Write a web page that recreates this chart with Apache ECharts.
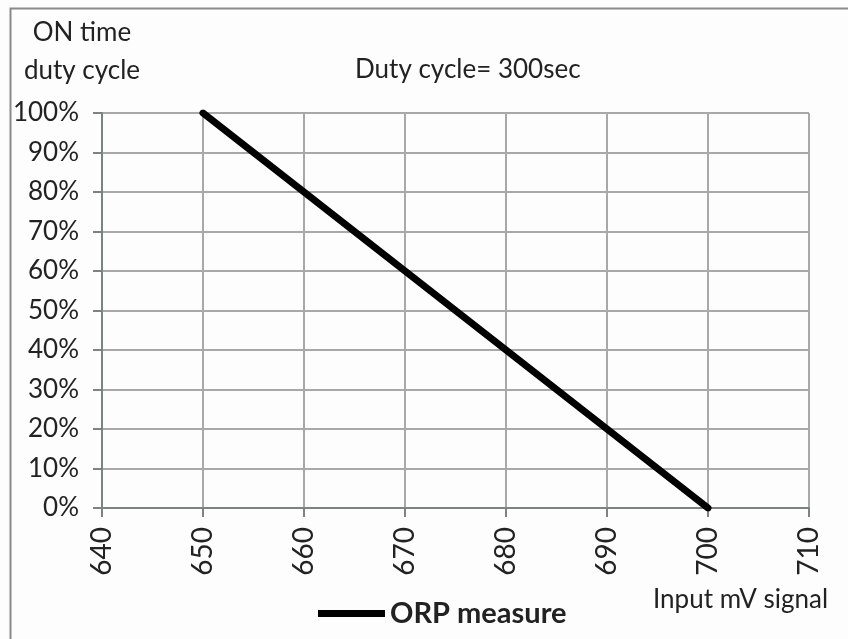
<!DOCTYPE html>
<html>
<head>
<meta charset="utf-8">
<script src="https://cdn.jsdelivr.net/npm/echarts@6/dist/echarts.min.js"></script>
<style>
  html, body { margin: 0; padding: 0; background: #fdfdfd; }
  #chart { width: 848px; height: 639px; }
</style>
</head>
<body>
<div id="chart"></div>
<script>
// chart data
const inputMv = [650, 700];
const dutyPercent = [100, 0];
const xTicks = [640, 650, 660, 670, 680, 690, 700, 710];
const yTicks = [0, 10, 20, 30, 40, 50, 60, 70, 80, 90, 100];
const seriesName = 'ORP measure';

const FONT = 'Lato, "Noto Sans", sans-serif';
const TXT = '#222';
const FS = 26;

let chart = echarts.init(document.getElementById('chart'));
chart.setOption({
    backgroundColor: '#fdfdfd',
    animation: false,
    grid: { left: 102, right: 39, top: 113, bottom: 131 },
    legend: {
        data: [{ name: seriesName, icon: 'rect' }],
        left: 313,
        top: 594,
        itemWidth: 67,
        itemHeight: 7,
        itemGap: 8,
        textStyle: { fontFamily: FONT, fontSize: 29, fontWeight: 'bold', color: TXT }
    },
    graphic: [
        {
            type: 'rect',
            shape: { x: 10.5, y: 8.5, width: 900, height: 700 },
            style: { fill: 'none', stroke: '#8a8a8a', lineWidth: 2 },
            silent: true
        },
        {
            type: 'text', x: 82, y: 33,
            style: { text: 'ON time', font: FS + 'px ' + FONT, fill: TXT, align: 'center', verticalAlign: 'middle' }
        },
        {
            type: 'text', x: 82, y: 71,
            style: { text: 'duty cycle', font: FS + 'px ' + FONT, fill: TXT, align: 'center', verticalAlign: 'middle' }
        },
        {
            type: 'text', x: 355, y: 70,
            style: { text: 'Duty cycle= 300sec', font: FS + 'px ' + FONT, fill: TXT, align: 'left', verticalAlign: 'middle' }
        },
        {
            type: 'text', x: 653, y: 600,
            style: { text: 'Input mV signal', font: FS + 'px ' + FONT, fill: TXT, align: 'left', verticalAlign: 'middle' }
        }
    ],
    xAxis: {
        type: 'value',
        min: xTicks[0],
        max: xTicks[xTicks.length - 1],
        interval: 10,
        axisLine: { lineStyle: { color: '#7b8383', width: 2 } },
        axisTick: { show: true, length: 9, lineStyle: { color: '#7b8383', width: 2 } },
        axisLabel: { rotate: 90, margin: 19, fontFamily: FONT, fontSize: 28, color: TXT },
        splitLine: { show: true, lineStyle: { color: '#a8a8a8', width: 2 } }
    },
    yAxis: {
        type: 'value',
        min: yTicks[0],
        max: yTicks[yTicks.length - 1],
        interval: 10,
        axisLine: { show: true, lineStyle: { color: '#7b8383', width: 2 } },
        axisTick: { show: true, length: 9, lineStyle: { color: '#7b8383', width: 2 } },
        axisLabel: { formatter: '{value}%', margin: 23, fontFamily: FONT, fontSize: FS, color: TXT },
        splitLine: { show: true, lineStyle: { color: '#a8a8a8', width: 2 } }
    },
    series: [
        {
            name: seriesName,
            type: 'line',
            data: inputMv.map((x, i) => [x, dutyPercent[i]]),
            showSymbol: false,
            lineStyle: { color: '#000', width: 7, cap: 'round' },
            itemStyle: { color: '#000' }
        }
    ]
});
</script>
</body>
</html>
